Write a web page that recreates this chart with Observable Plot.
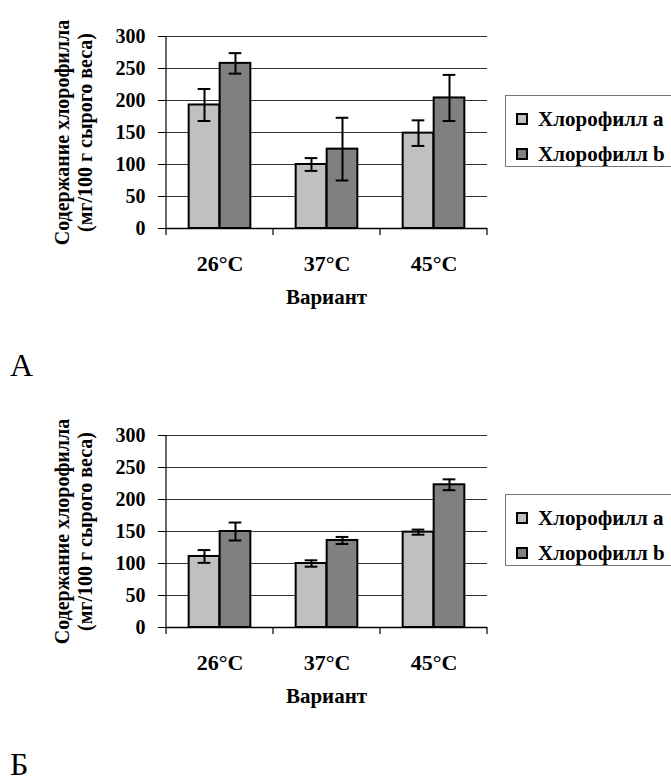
<!DOCTYPE html>
<html>
<head>
<meta charset="utf-8">
<script src="https://cdn.jsdelivr.net/npm/d3@7"></script>
<script src="https://cdn.jsdelivr.net/npm/@observablehq/plot@0.6"></script>
<style>
  body { margin: 0; background: #fff; font-family: "Liberation Serif", "Times New Roman", serif; }
  .panel { position: relative; width: 671px; height: 399px; overflow: hidden; }
  .panel svg { position: absolute; left: 0; top: 0; }
  .panel svg, .panel svg text { font-family: "Liberation Serif", "Times New Roman", serif !important; }
  .legend { position: absolute; left: 505px; top: 95px; width: 190px; height: 72px; border: 1px solid #777; box-sizing: border-box; background: #fff; }
  .legend .row { position: absolute; left: 10px; height: 24px; display: flex; align-items: center; font-weight: bold; font-size: 21px; white-space: nowrap; }
  .legend .sw { width: 8px; height: 8px; border: 2px solid #000; margin-right: 10px; }
  .letter { position: absolute; left: 10px; font-size: 32px; line-height: 20px; }
</style>
</head>
<body>
<div id="panelA" class="panel"></div>
<div id="panelB" class="panel"></div>
<script>
// ---- data ----
const categories = ["26°C", "37°C", "45°C"];
const seriesNames = ["Хлорофилл a", "Хлорофилл b"];
const seriesColors = ["#c0c0c0", "#808080"];
const yTicks = [0, 50, 100, 150, 200, 250, 300];
const yTitle = "Содержание хлорофилла\n(мг/100 г сырого веса)";
const xTitle = "Вариант";

// Panel А
const chlA_A = [193, 100, 149];
const errA_A = [25, 10, 20];
const chlB_A = [258, 124, 204];
const errB_A = [16, 49, 36];

// Panel Б
const chlA_B = [111, 100, 149];
const errA_B = [10, 5, 4];
const chlB_B = [150, 136, 223];
const errB_B = [14, 5.5, 8.5];

const panelLetters = ["А", "Б"];

// ---- layout constants ----
const W = 671, H = 399;
const mL = 165, mR = 184, mT = 36, mB = H - 228;
const bandW = (W - mL - mR) / categories.length;
const barW = 31;
const capW = 13;

function rows(vals, errs) {
  return categories.map((c, i) => ({cat: c, v: vals[i], lo: vals[i] - errs[i], hi: vals[i] + errs[i]}));
}

function axesMark(index, scales, values, dims) {
  const x = scales.x, y = scales.y;
  const bw = typeof x.bandwidth === "function" ? x.bandwidth() : x.bandwidth;
  const dom = x.domain();
  const edges = dom.map(d => x(d)).concat([x(dom[dom.length - 1]) + bw]);
  const y0 = y(0), yTop = y(yTicks[yTicks.length - 1]);
  const g = d3.create("svg:g").attr("stroke", "#000").attr("stroke-width", 1.2);
  g.append("line").attr("x1", edges[0]).attr("x2", edges[0]).attr("y1", yTop).attr("y2", y0);
  for (const e of edges) g.append("line").attr("x1", e).attr("x2", e).attr("y1", y0).attr("y2", y0 + 7);
  return g.node();
}

function makePanel(el, aVals, aErrs, bVals, bErrs, letter) {
  const dA = rows(aVals, aErrs), dB = rows(bVals, bErrs);
  const half = bandW / 2;
  const serif = "'Liberation Serif', 'Times New Roman', serif";
  const chart = Plot.plot({
    width: W, height: H,
    marginLeft: mL, marginRight: mR, marginTop: mT, marginBottom: mB,
    style: {fontFamily: serif, fontWeight: "bold", fontSize: "20px", background: "transparent"},
    x: {type: "band", domain: categories, padding: 0, label: null},
    y: {domain: [0, 300], label: null},
    marks: [
      Plot.ruleY(yTicks.slice(1), {stroke: "#333", strokeWidth: 1}),
      Plot.barY(dA, {x: "cat", y: "v", fill: seriesColors[0], stroke: "#000", strokeWidth: 2, insetLeft: half - barW, insetRight: half}),
      Plot.barY(dB, {x: "cat", y: "v", fill: seriesColors[1], stroke: "#000", strokeWidth: 2, insetLeft: half, insetRight: half - barW}),
      Plot.ruleY([0], {stroke: "#000", strokeWidth: 1.5}),
      Plot.ruleX(dA, {x: "cat", y1: "lo", y2: "hi", dx: -barW / 2, stroke: "#000", strokeWidth: 2}),
      Plot.ruleX(dB, {x: "cat", y1: "lo", y2: "hi", dx: barW / 2, stroke: "#000", strokeWidth: 2}),
      Plot.tickY(dA, {x: "cat", y: "lo", dx: -barW / 2, insetLeft: half - capW / 2, insetRight: half - capW / 2, stroke: "#000", strokeWidth: 2}),
      Plot.tickY(dA, {x: "cat", y: "hi", dx: -barW / 2, insetLeft: half - capW / 2, insetRight: half - capW / 2, stroke: "#000", strokeWidth: 2}),
      Plot.tickY(dB, {x: "cat", y: "lo", dx: barW / 2, insetLeft: half - capW / 2, insetRight: half - capW / 2, stroke: "#000", strokeWidth: 2}),
      Plot.tickY(dB, {x: "cat", y: "hi", dx: barW / 2, insetLeft: half - capW / 2, insetRight: half - capW / 2, stroke: "#000", strokeWidth: 2}),
      Plot.axisY({ticks: yTicks, tickSize: 7, tickPadding: 13, label: null, fontSize: 20, fontWeight: "bold"}),
      Plot.axisX({tickSize: 0, tickPadding: 27, label: null, fontSize: 22, fontWeight: "bold"}),
      axesMark,
      Plot.text([xTitle], {frameAnchor: "bottom", dy: 75, fontSize: 21, fontWeight: "bold", text: d => d}),
      Plot.text([yTitle], {frameAnchor: "left", dx: -92, rotate: -90, textAnchor: "middle", lineHeight: 1.12, fontSize: 20, fontWeight: "bold", text: d => d})
    ]
  });
  el.appendChild(chart);

  const leg = document.createElement("div");
  leg.className = "legend";
  seriesNames.forEach((n, i) => {
    const r = document.createElement("div");
    r.className = "row";
    r.style.top = (11 + i * 35) + "px";
    const sw = document.createElement("span");
    sw.className = "sw";
    sw.style.background = seriesColors[i];
    r.appendChild(sw);
    r.appendChild(document.createTextNode(n));
    leg.appendChild(r);
  });
  el.appendChild(leg);

  const lt = document.createElement("div");
  lt.className = "letter";
  lt.style.top = "355px";
  lt.textContent = letter;
  el.appendChild(lt);
}

makePanel(document.getElementById("panelA"), chlA_A, errA_A, chlB_A, errB_A, panelLetters[0]);
makePanel(document.getElementById("panelB"), chlA_B, errA_B, chlB_B, errB_B, panelLetters[1]);
</script>
</body>
</html>
